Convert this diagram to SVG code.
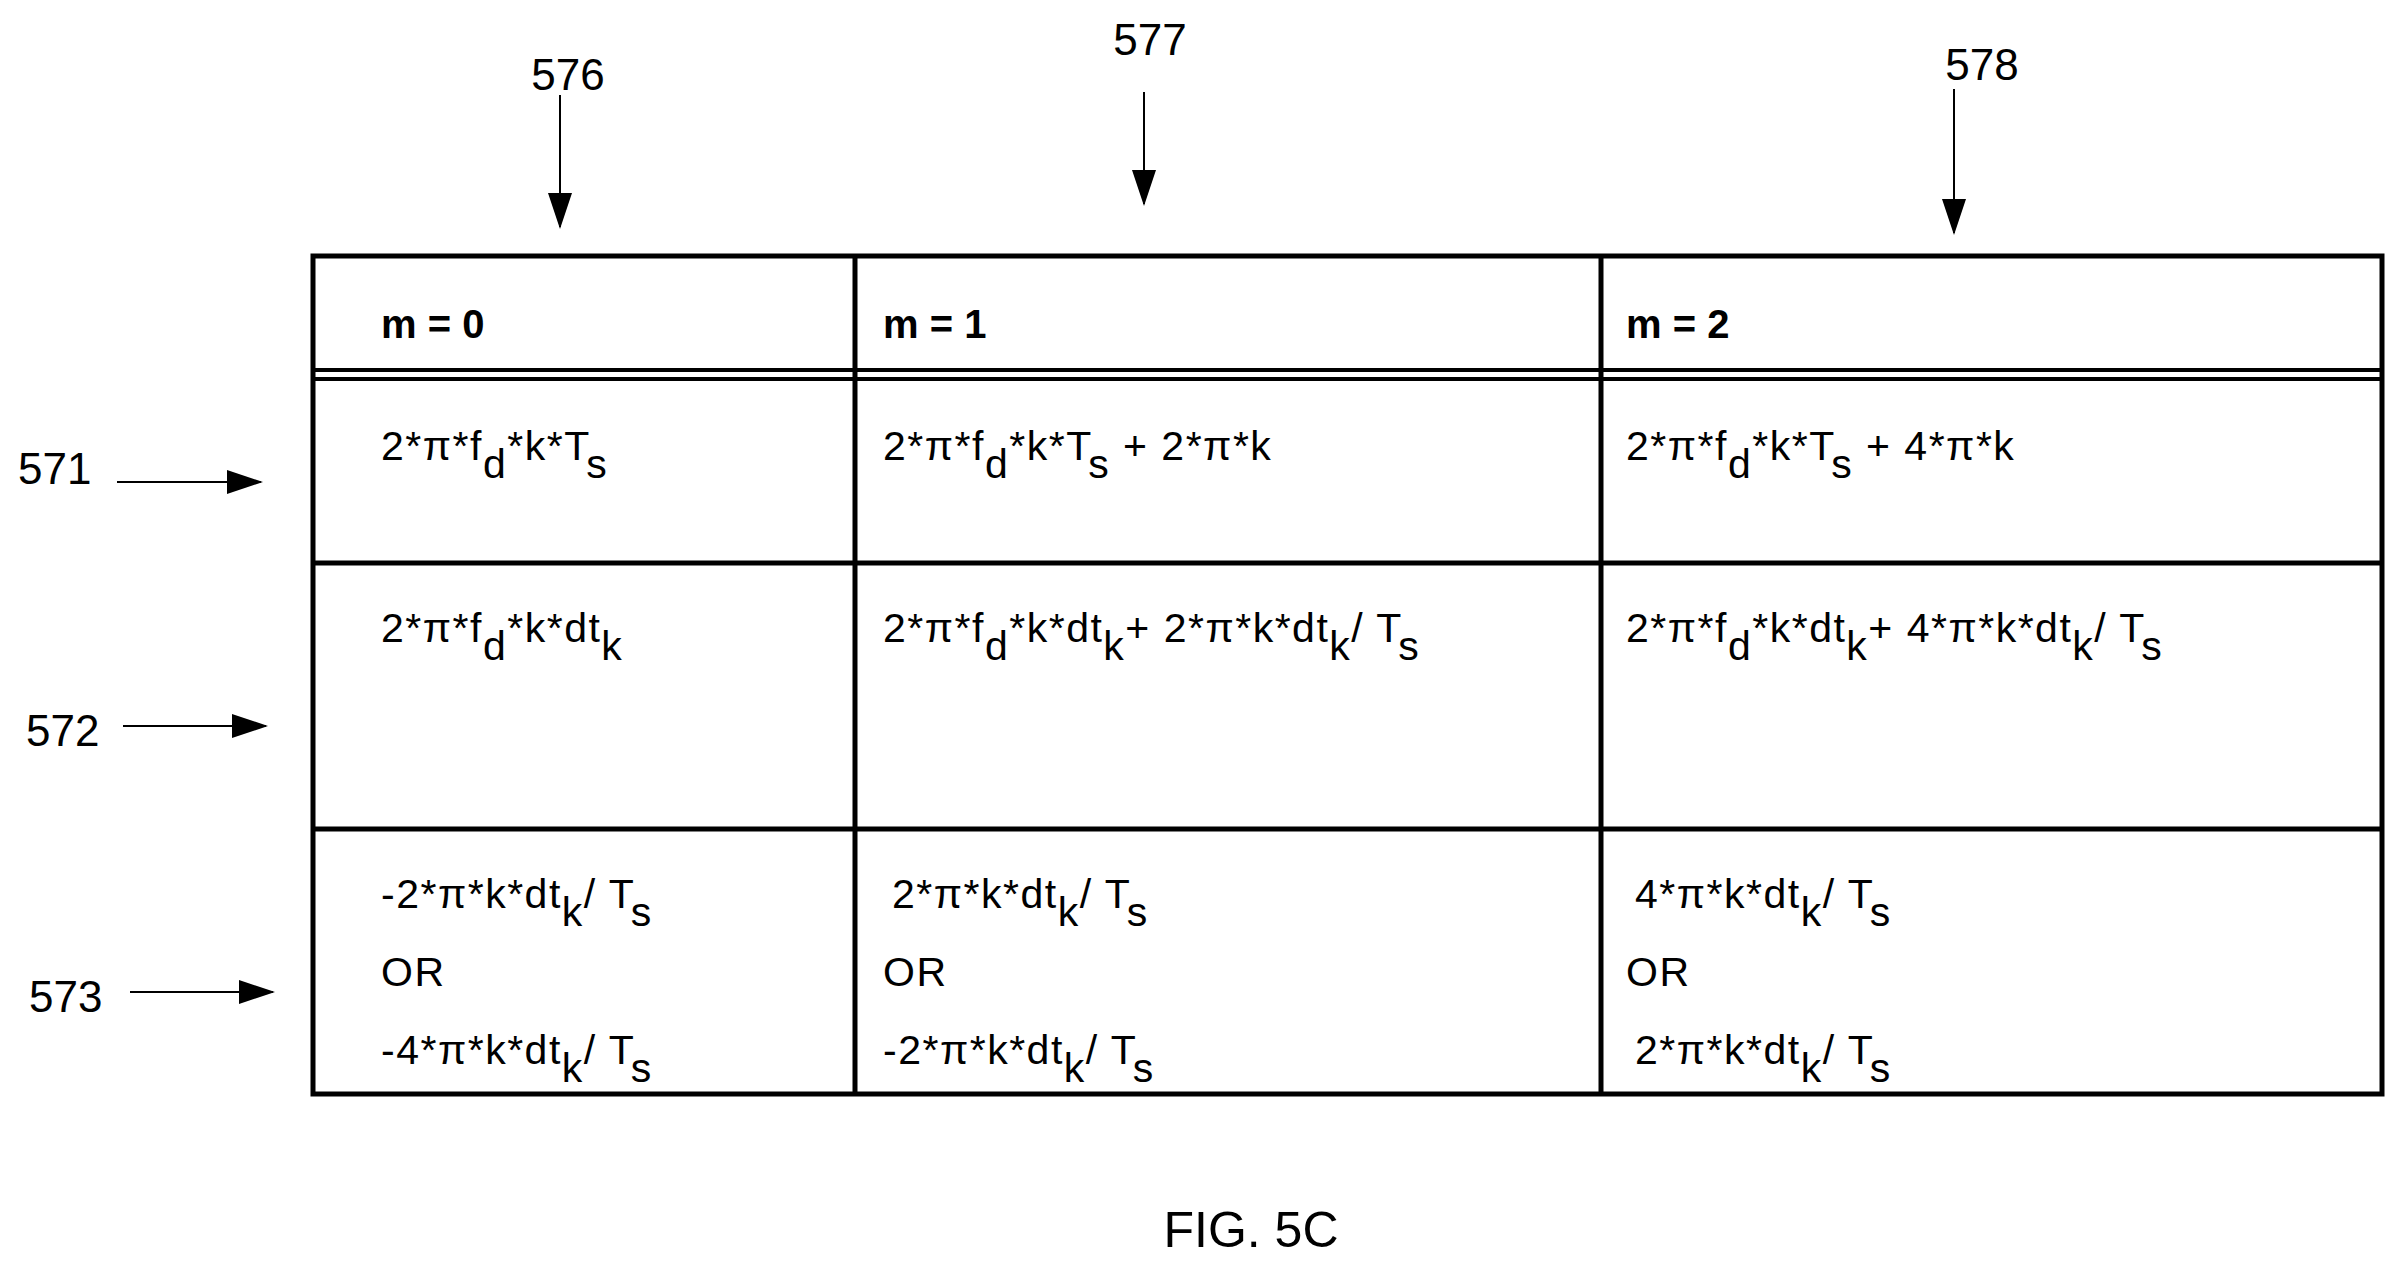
<svg xmlns="http://www.w3.org/2000/svg" width="2407" height="1267" viewBox="0 0 2407 1267">
<style>
.g{stroke:#000;stroke-width:5;fill:none}
.c{font-family:"Liberation Sans",Arial,sans-serif;font-size:41px;letter-spacing:1.5px;fill:#000}
.h{font-family:"Liberation Sans",Arial,sans-serif;font-size:40px;font-weight:bold;fill:#000}
.n{font-family:"Liberation Sans",Arial,sans-serif;font-size:44px;fill:#000}
.a{stroke:#000;stroke-width:2;fill:none}
</style>
<defs><marker id="ah" markerWidth="36" markerHeight="24" refX="34" refY="12" orient="auto" markerUnits="userSpaceOnUse"><path d="M0,0 L36,12 L0,24 Z" fill="#000"/></marker></defs>
<rect width="2407" height="1267" fill="#fff"/>
<g id="table">
<rect class="g" x="313" y="256" width="2069" height="838"/>
<line class="g" x1="855" y1="256" x2="855" y2="1094"/>
<line class="g" x1="1601" y1="256" x2="1601" y2="1094"/>
<line class="g" x1="313" y1="370" x2="2382" y2="370" style="stroke-width:4"/>
<line class="g" x1="313" y1="379" x2="2382" y2="379" style="stroke-width:4"/>
<line class="g" x1="313" y1="563" x2="2382" y2="563"/>
<line class="g" x1="313" y1="829" x2="2382" y2="829"/>
</g>
<g id="header">
<text class="h" x="381" y="338">m = 0</text>
<text class="h" x="883" y="338">m = 1</text>
<text class="h" x="1626" y="338">m = 2</text>
</g>
<g id="row571">
<text class="c" x="381" y="460">2*π*f<tspan dy="18">d</tspan><tspan dy="-18">*k*T</tspan><tspan dy="18">s</tspan></text>
<text class="c" x="883" y="460">2*π*f<tspan dy="18">d</tspan><tspan dy="-18">*k*T</tspan><tspan dy="18">s</tspan><tspan dy="-18"> + 2*π*k</tspan></text>
<text class="c" x="1626" y="460">2*π*f<tspan dy="18">d</tspan><tspan dy="-18">*k*T</tspan><tspan dy="18">s</tspan><tspan dy="-18"> + 4*π*k</tspan></text>
</g>
<g id="row572">
<text class="c" x="381" y="642">2*π*f<tspan dy="18">d</tspan><tspan dy="-18">*k*dt</tspan><tspan dy="18">k</tspan></text>
<text class="c" x="883" y="642">2*π*f<tspan dy="18">d</tspan><tspan dy="-18">*k*dt</tspan><tspan dy="18">k</tspan><tspan dy="-18">+ 2*π*k*dt</tspan><tspan dy="18">k</tspan><tspan dy="-18">/ T</tspan><tspan dy="18">s</tspan></text>
<text class="c" x="1626" y="642">2*π*f<tspan dy="18">d</tspan><tspan dy="-18">*k*dt</tspan><tspan dy="18">k</tspan><tspan dy="-18">+ 4*π*k*dt</tspan><tspan dy="18">k</tspan><tspan dy="-18">/ T</tspan><tspan dy="18">s</tspan></text>
</g>
<g id="row573">
<text class="c" x="381" y="908">-2*π*k*dt<tspan dy="18">k</tspan><tspan dy="-18">/ T</tspan><tspan dy="18">s</tspan></text>
<text class="c" x="381" y="986">OR</text>
<text class="c" x="381" y="1064">-4*π*k*dt<tspan dy="18">k</tspan><tspan dy="-18">/ T</tspan><tspan dy="18">s</tspan></text>
<text class="c" x="892" y="908">2*π*k*dt<tspan dy="18">k</tspan><tspan dy="-18">/ T</tspan><tspan dy="18">s</tspan></text>
<text class="c" x="883" y="986">OR</text>
<text class="c" x="883" y="1064">-2*π*k*dt<tspan dy="18">k</tspan><tspan dy="-18">/ T</tspan><tspan dy="18">s</tspan></text>
<text class="c" x="1635" y="908">4*π*k*dt<tspan dy="18">k</tspan><tspan dy="-18">/ T</tspan><tspan dy="18">s</tspan></text>
<text class="c" x="1626" y="986">OR</text>
<text class="c" x="1635" y="1064">2*π*k*dt<tspan dy="18">k</tspan><tspan dy="-18">/ T</tspan><tspan dy="18">s</tspan></text>
</g>
<g id="labels">
<text class="n" x="18" y="484">571</text>
<text class="n" x="26" y="746">572</text>
<text class="n" x="29" y="1012">573</text>
<text class="n" x="568" y="90" text-anchor="middle">576</text>
<text class="n" x="1150" y="55" text-anchor="middle">577</text>
<text class="n" x="1982" y="80" text-anchor="middle">578</text>
<text class="n" x="1251" y="1247" text-anchor="middle" style="font-size:50px">FIG. 5C</text>
</g>
<g id="connectors">
<line class="a" x1="117" y1="482" x2="261" y2="482" marker-end="url(#ah)"/>
<line class="a" x1="123" y1="726" x2="266" y2="726" marker-end="url(#ah)"/>
<line class="a" x1="130" y1="992" x2="273" y2="992" marker-end="url(#ah)"/>
<line class="a" x1="560" y1="95" x2="560" y2="227" marker-end="url(#ah)"/>
<line class="a" x1="1144" y1="92" x2="1144" y2="204" marker-end="url(#ah)"/>
<line class="a" x1="1954" y1="89" x2="1954" y2="233" marker-end="url(#ah)"/>
</g>
</svg>
